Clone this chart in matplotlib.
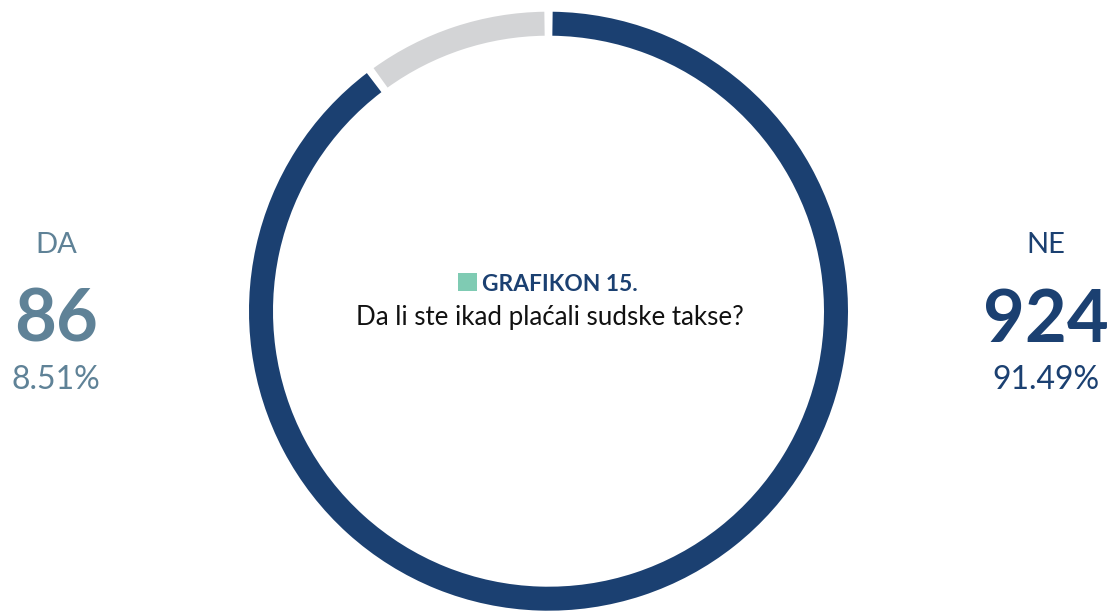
import matplotlib
matplotlib.use('Agg')
import matplotlib.pyplot as plt
from matplotlib.patches import Wedge, Rectangle
import numpy as np

categories = ['DA', 'NE']
counts = [86, 924]
percent_labels = ['8.51%', '91.49%']
ring_share = [10.15, 89.85]  # arc share as drawn on the ring in the picture
title = 'GRAFIKON 15.'
subtitle = 'Da li ste ikad plaćali sudske takse?'

ring_colors = ['#D3D4D6', '#1B4071']
label_colors = ['#5F8297', '#1B4071']
accent = '#7FCBB3'

plt.rcParams['font.family'] = ['Lato', 'DejaVu Sans']

W_PX, H_PX = 1114, 612
fig = plt.figure(figsize=(W_PX / 100, H_PX / 100), dpi=100)
ax = fig.add_axes([0, 0, 1, 1])
ax.set_xlim(0, W_PX)
ax.set_ylim(0, H_PX)
ax.set_aspect('equal')
ax.axis('off')

def Y(py):
    return H_PX - py

cx, cy = 548.5, Y(311.2)
R, width = 299.5, 24
gap_px = 8
gap_deg = np.degrees(gap_px / (R - width / 2))

start = 90.0
cum = np.concatenate([[0], np.cumsum(ring_share)]) / np.sum(ring_share) * 360.0
for i, col in enumerate(ring_colors):
    t1 = start + cum[i] + gap_deg / 2
    t2 = start + cum[i + 1] - gap_deg / 2
    ax.add_patch(Wedge((cx, cy), R, t1, t2, width=width, facecolor=col,
                       edgecolor='none', antialiased=True))

# Side labels
side_x = [56, 1046]
for i, cat in enumerate(categories):
    c = label_colors[i]
    ax.text(side_x[i], Y(253), cat, ha='center', va='baseline', fontsize=21,
            fontweight='normal', color=c)
    ax.text(side_x[i], Y(342), str(counts[i]), ha='center', va='baseline',
            fontsize=52, fontweight='bold', color=c)
    ax.text(side_x[i], Y(389), percent_labels[i], ha='center', va='baseline',
            fontsize=23, fontweight='normal', color=c)

# Center title
ax.add_patch(Rectangle((458, Y(291)), 19, 18, facecolor=accent, edgecolor='none'))
ax.text(482, Y(291), title, ha='left', va='baseline', fontsize=16.4,
        fontweight='bold', color='#1B4071')
ax.text(550, Y(325), subtitle, ha='center', va='baseline', fontsize=18.6,
        color='#111111')

fig.savefig('out.png', dpi=100)
